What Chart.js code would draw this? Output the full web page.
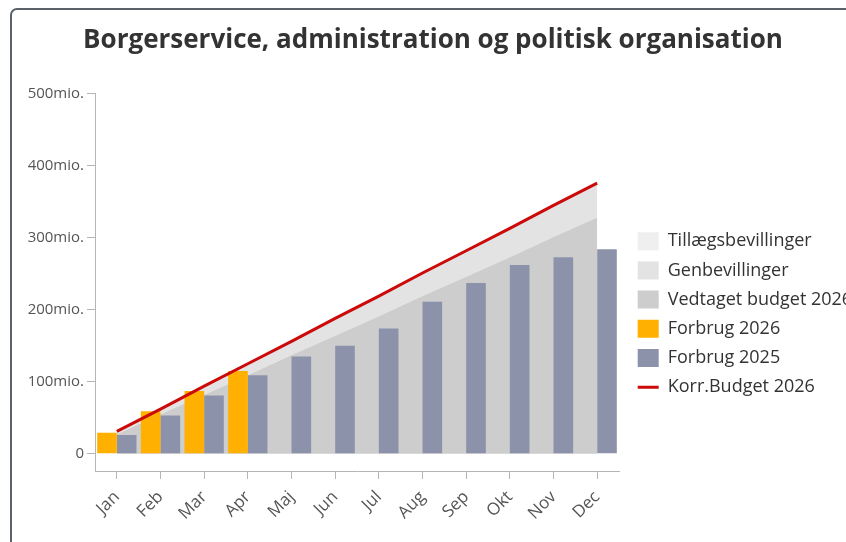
<!DOCTYPE html>
<html lang="da">
<head>
<meta charset="utf-8">
<title>Borgerservice, administration og politisk organisation</title>
<script src="https://cdn.jsdelivr.net/npm/chart.js@4.4.1/dist/chart.umd.min.js"></script>
<style>
    html, body {
        margin: 0;
        padding: 0;
        background: #fff;
        overflow: hidden;
    }
    .card {
        position: absolute;
        left: 10px;
        top: 8px;
        width: 900px;
        height: 600px;
        border: 2px solid #5a6168;
        border-radius: 7px;
        box-sizing: border-box;
    }
    .chart-wrap {
        position: absolute;
        left: 0;
        top: 0;
        width: 846px;
        height: 542px;
    }
</style>
</head>
<body>
<div class="card"></div>
<div class="chart-wrap"><canvas id="budgetChart"></canvas></div>
<script>
// Monthly figures in mio. kr.
const months = ['Jan', 'Feb', 'Mar', 'Apr', 'Maj', 'Jun', 'Jul', 'Aug', 'Sep', 'Okt', 'Nov', 'Dec'];
const tillaegsbevillinger = [0, 0, 0, 0, 0, 0, 0, 0, 0, 0, 0, 0];
const genbevillinger = [4, 7, 12, 16, 19, 24, 28, 32, 36, 40, 44, 48];
const vedtagetBudget2026 = [27, 55, 82, 109, 137, 164, 191, 219, 246, 273, 301, 328];
const forbrug2026 = [29, 59, 87, 115, null, null, null, null, null, null, null, null];
const forbrug2025 = [26, 53, 81, 109, 135, 150, 174, 211, 237, 262, 273, 284];
const korrBudget2026 = [31, 62, 94, 125, 156, 188, 219, 251, 282, 313, 345, 376];
const yTicks = [0, 100, 200, 300, 400, 500];

const FONT = "'Open Sans', 'Noto Sans', sans-serif";
const AXIS_GREY = '#b5b5b5';

// place the legend block where it sits in the original
const legendPlacement = {
    id: 'legendPlacement',
    afterLayout(chart) {
        chart.legend.left = 626.5;
        chart.legend.top = 221;
    }
};

function areaSet(label, data, color, fill, order) {
    return {
        type: 'line',
        label: label,
        data: data,
        stack: 'budget',
        backgroundColor: color,
        borderColor: color,
        borderWidth: 0,
        pointRadius: 0,
        pointHoverRadius: 0,
        pointStyle: 'rect',
        tension: 0,
        fill: fill,
        order: order
    };
}

const ctx = document.getElementById('budgetChart').getContext('2d');

new Chart(ctx, {
    type: 'bar',
    data: {
        labels: months,
        datasets: [
            areaSet('Tillægsbevillinger', tillaegsbevillinger, '#efefef', '+1', 4),
            areaSet('Genbevillinger', genbevillinger, '#e3e3e3', '+1', 3),
            areaSet('Vedtaget budget 2026', vedtagetBudget2026, '#cdcdcd', 'origin', 2),
            {
                label: 'Forbrug 2026',
                data: forbrug2026,
                stack: 'f26',
                backgroundColor: '#ffb000',
                borderWidth: 0,
                pointStyle: 'rect',
                order: 1
            },
            {
                label: 'Forbrug 2025',
                data: forbrug2025,
                stack: 'f25',
                backgroundColor: '#8d92ab',
                borderWidth: 0,
                pointStyle: 'rect',
                order: 1
            },
            {
                type: 'line',
                label: 'Korr.Budget 2026',
                data: korrBudget2026,
                stack: 'korr',
                borderColor: '#cc0a0a',
                backgroundColor: '#cc0a0a',
                borderWidth: 3,
                pointRadius: 0,
                pointStyle: 'line',
                tension: 0,
                fill: false,
                order: 0
            }
        ]
    },
    options: {
        responsive: true,
        maintainAspectRatio: false,
        animation: false,
        layout: {
            padding: { left: 20, right: 0, top: 0, bottom: 21 }
        },
        datasets: {
            bar: {
                categoryPercentage: 0.9,
                barPercentage: 1.0
            }
        },
        plugins: {
            title: {
                display: true,
                text: 'Borgerservice, administration og politisk organisation',
                color: '#333',
                font: { family: FONT, size: 26, weight: 'bold' },
                padding: { top: 25, bottom: 37.6 }
            },
            legend: {
                position: 'right',
                align: 'start',
                maxWidth: 227,
                labels: {
                    color: '#333',
                    font: { family: FONT, size: 18 },
                    usePointStyle: true,
                    pointStyleWidth: 21,
                    boxHeight: 21,
                    padding: 11.2,
                    sort: (a, b) => a.datasetIndex - b.datasetIndex
                }
            },
            tooltip: { enabled: false }
        },
        scales: {
            x: {
                stacked: false,
                afterFit: (scale) => { scale.height = 50; },
                grid: {
                    offset: false,
                    drawOnChartArea: false,
                    color: AXIS_GREY,
                    tickLength: 8
                },
                border: { color: AXIS_GREY, width: 1 },
                ticks: {
                    color: '#555',
                    font: { family: FONT, size: 17 },
                    minRotation: 45,
                    maxRotation: 45,
                    padding: 8
                }
            },
            y: {
                stacked: true,
                min: -24,
                max: 500,
                afterFit: (scale) => { scale.width = 75; },
                afterBuildTicks: (scale) => {
                    scale.ticks = yTicks.map(v => ({ value: v }));
                },
                grid: {
                    drawOnChartArea: false,
                    color: AXIS_GREY,
                    tickLength: 8
                },
                border: { color: AXIS_GREY, width: 1 },
                ticks: {
                    color: '#555',
                    font: { family: FONT, size: 15 },
                    padding: 3,
                    callback: (v) => v === 0 ? '0' : v + 'mio.'
                }
            }
        }
    },
    plugins: [legendPlacement]
});
</script>
</body>
</html>
